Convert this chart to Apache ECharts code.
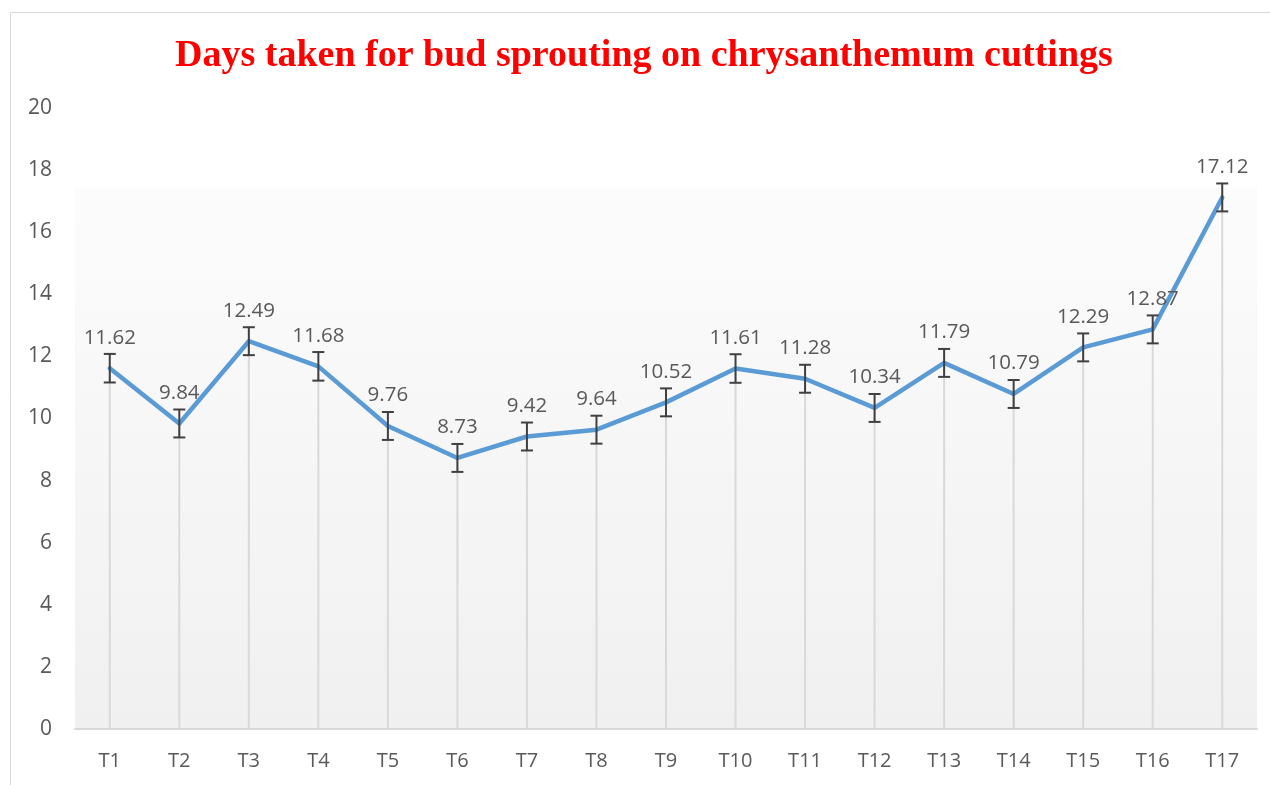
<!DOCTYPE html>
<html>
<head>
<meta charset="utf-8">
<title>Days taken for bud sprouting</title>
<script src="https://cdn.jsdelivr.net/npm/echarts@6/dist/echarts.min.js"></script>
<style>
  html, body { margin: 0; padding: 0; background: #fff; }
  #chart { width: 1270px; height: 785px; }
</style>
</head>
<body>
<div id="chart"></div>
<script>
const categories = ['T1', 'T2', 'T3', 'T4', 'T5', 'T6', 'T7', 'T8', 'T9', 'T10', 'T11', 'T12', 'T13', 'T14', 'T15', 'T16', 'T17']
const days = [11.62, 9.84, 12.49, 11.68, 9.76, 8.73, 9.42, 9.64, 10.52, 11.61, 11.28, 10.34, 11.79, 10.79, 12.29, 12.87, 17.12]
const errors = [0.46, 0.45, 0.45, 0.46, 0.45, 0.45, 0.45, 0.45, 0.45, 0.46, 0.45, 0.45, 0.45, 0.45, 0.45, 0.45, 0.45]
const yTicks = [0, 2, 4, 6, 8, 10, 12, 14, 16, 18, 20]

const chart = echarts.init(document.getElementById('chart'))

const errorData = days.map((v, i) => [i, v - errors[i], v + errors[i]])
const dropData = days.map((v, i) => [i, v])

const option = {
  backgroundColor: '#ffffff',
  animation: false,
  title: {
    text: 'Days taken for bud sprouting on chrysanthemum cuttings',
    left: 170,
    top: 32,
    textStyle: {
      color: '#ff0000',
      fontFamily: 'Liberation Serif',
      fontWeight: 'bold',
      fontSize: 38
    }
  },
  graphic: [
    {
      type: 'rect',
      z: -10,
      silent: true,
      shape: { x: 10.5, y: 12.5, width: 1270, height: 800 },
      style: { fill: null, stroke: '#d9d9d9', lineWidth: 1 }
    }
  ],
  grid: {
    left: 75,
    right: 13,
    top: 108,
    bottom: 56,
    show: true,
    borderWidth: 0,
    backgroundColor: {
      type: 'linear',
      x: 0, y: 0, x2: 0, y2: 1,
      colorStops: [
        { offset: 0, color: '#ffffff' },
        { offset: 0.125, color: '#ffffff' },
        { offset: 0.13, color: '#fcfcfc' },
        { offset: 1, color: '#f0f0f0' }
      ]
    }
  },
  xAxis: {
    type: 'category',
    data: categories,
    boundaryGap: true,
    axisLine: { show: true, lineStyle: { color: '#d9d9d9', width: 2 } },
    axisTick: { show: false },
    axisLabel: { color: '#595959', fontSize: 20, fontFamily: 'Open Sans', margin: 22 },
    splitLine: { show: false }
  },
  yAxis: {
    type: 'value',
    min: yTicks[0],
    max: yTicks[yTicks.length - 1],
    interval: 2,
    axisLine: { show: false },
    axisTick: { show: false },
    splitLine: { show: false },
    axisLabel: { color: '#595959', fontSize: 21, fontFamily: 'Open Sans', margin: 23 }
  },
  series: [
    {
      type: 'custom',
      name: 'drop',
      z: 1,
      silent: true,
      data: dropData,
      renderItem: function (params, api) {
        const top = api.coord([api.value(0), api.value(1)])
        const bottom = api.coord([api.value(0), 0])
        return {
          type: 'line',
          shape: { x1: top[0], y1: top[1], x2: bottom[0], y2: bottom[1] },
          style: { stroke: '#d9d9d9', lineWidth: 2 }
        }
      }
    },
    {
      type: 'line',
      name: 'Days',
      z: 3,
      data: days,
      symbol: 'circle',
      symbolSize: 0,
      showSymbol: true,
      lineStyle: { color: '#5b9bd5', width: 4.5, cap: 'round', join: 'round' },
      itemStyle: { color: '#5b9bd5' },
      label: {
        show: true,
        position: 'top',
        distance: 20,
        color: '#595959',
        fontSize: 20.5,
        fontFamily: 'Open Sans'
      }
    },
    {
      type: 'custom',
      name: 'error',
      z: 4,
      silent: true,
      data: errorData,
      renderItem: function (params, api) {
        const lo = api.coord([api.value(0), api.value(1)])
        const hi = api.coord([api.value(0), api.value(2)])
        const half = 6
        const style = { stroke: '#404040', lineWidth: 2 }
        return {
          type: 'group',
          children: [
            { type: 'line', shape: { x1: hi[0], y1: hi[1], x2: lo[0], y2: lo[1] }, style: style },
            { type: 'line', shape: { x1: hi[0] - half, y1: hi[1], x2: hi[0] + half, y2: hi[1] }, style: style },
            { type: 'line', shape: { x1: lo[0] - half, y1: lo[1], x2: lo[0] + half, y2: lo[1] }, style: style }
          ]
        }
      }
    }
  ]
}

chart.setOption(option)
</script>
</body>
</html>
